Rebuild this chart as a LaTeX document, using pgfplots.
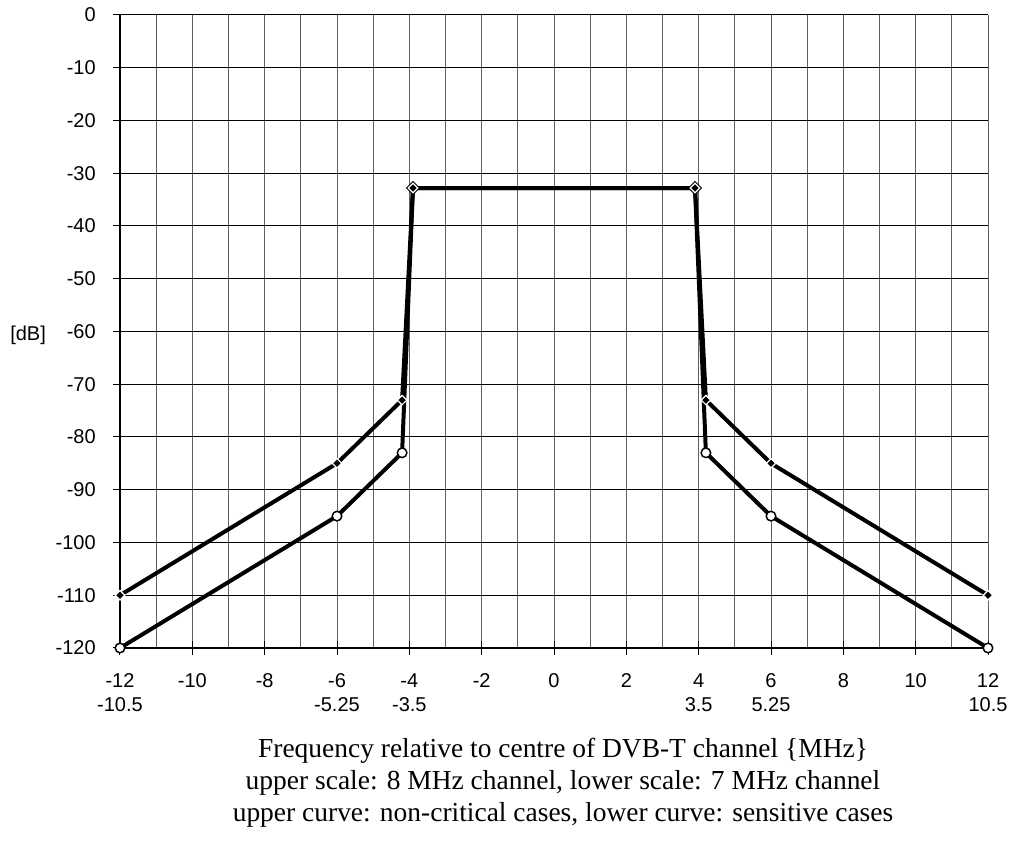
\documentclass[border=0pt]{standalone}
\usepackage{pgfplots}
\pgfplotsset{compat=1.18}
\usepackage{fontspec}
\setmainfont{Liberation Serif}
\newfontfamily\arial{Liberation Sans}
\begin{document}
\begin{tikzpicture}
\path[use as bounding box] (0pt,0pt) rectangle (766.5pt,630.75pt);
\begin{axis}[
  at={(90pt,144.75pt)}, anchor=south west,
  scale only axis, width=651pt, height=474.75pt,
  xmin=-12, xmax=12, ymin=-120, ymax=0,
  clip=false,
  axis lines=left,
  axis line style={-, line width=1.5pt, black},
  xtick={-12,-10,...,12},
  xticklabels={{-12\\-10.5},-10,-8,{-6\\-5.25},{-4\\-3.5},-2,0,2,{4\\3.5},{6\\5.25},8,10,{12\\10.5}},
  minor xtick={-11,-9,...,11},
  ytick={-120,-110,...,0},
  yticklabels={-120,-110,-100,-90,-80,-70,-60,-50,-40,-30,-20,-10,0},
  xmajorgrids, xminorgrids, ymajorgrids,
  x grid style={black!62, line width=0.75pt},
  y grid style={black, line width=0.75pt},
  major tick length=10.5pt, minor tick length=0pt,
  tick align=center,
  tick style={black, line width=0.75pt},
  xticklabel style={font=\arial\fontsize{15}{17.5}\selectfont, align=center, anchor=north, inner sep=0pt, yshift=-14pt},
  yticklabel style={font=\arial\fontsize{15}{18}\selectfont, anchor=east, inner sep=0pt, xshift=-12.75pt},
]
% lines
\addplot[black, line width=3pt, mark=none] coordinates {(-12,-120) (-6,-95) (-4.2,-83) (-3.9,-32.8) (3.9,-32.8) (4.2,-83) (6,-95) (12,-120)};
\addplot[black, line width=3pt, mark=none] coordinates {(-12,-110) (-6,-85) (-4.2,-73) (-3.9,-32.8) (3.9,-32.8) (4.2,-73) (6,-85) (12,-110)};
% lower curve markers (circles)
\addplot[only marks, mark=*, mark size=3.6pt, mark options={fill=white, draw=black, line width=1.1pt}] coordinates {(-12,-120) (-6,-95) (-4.2,-83) (4.2,-83) (6,-95) (12,-120)};
% big open diamonds at top corners
\addplot[only marks, mark=square*, mark size=3.2pt, mark options={rotate=45, fill=white, draw=black, line width=1.1pt}] coordinates {(-3.9,-32.8) (3.9,-32.8)};
% upper curve markers (small black diamonds with white halo)
\addplot[only marks, mark=square*, mark size=2.5pt, mark options={rotate=45, fill=black, draw=white, line width=0.9pt}] coordinates {(-12,-110) (-6,-85) (-4.2,-73) (-3.9,-32.8) (3.9,-32.8) (4.2,-73) (6,-85) (12,-110)};
\end{axis}
\node[anchor=west, inner sep=0pt, font=\arial\fontsize{15}{18}\selectfont] at (7.5pt,379.5pt) {[dB]};
\node[anchor=base, inner sep=0pt, font=\fontsize{20.6}{24}\selectfont] at (422.25pt,62.25pt) {Frequency relative to centre of DVB-T channel \{MHz\}};
\node[anchor=base, inner sep=0pt, font=\fontsize{20.6}{24}\selectfont] at (422.25pt,38.25pt) {upper scale: 8 MHz channel, lower scale: 7 MHz channel};
\node[anchor=base, inner sep=0pt, font=\fontsize{20.6}{24}\selectfont] at (422.25pt,14.25pt) {upper curve: non-critical cases, lower curve: sensitive cases};
\end{tikzpicture}
\end{document}
